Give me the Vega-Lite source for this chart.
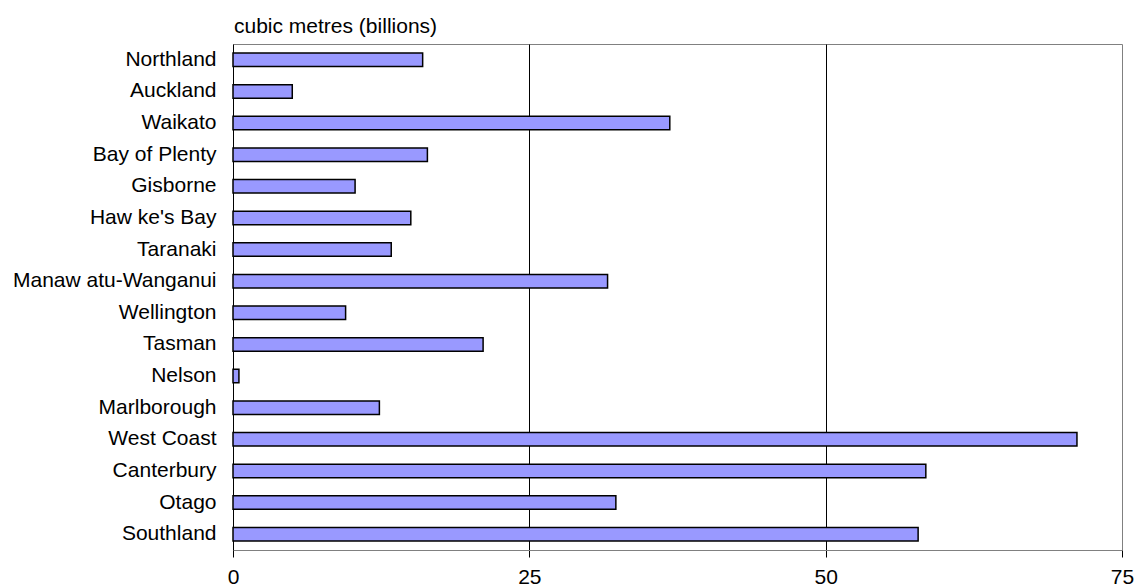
{
  "$schema": "https://vega.github.io/schema/vega-lite/v6.json",
  "autosize": "none",
  "width": 889,
  "height": 506,
  "padding": {"left": 233, "top": 44, "right": 16, "bottom": 38},
  "background": "white",
  "config": {
    "font": "Liberation Sans",
    "view": {"stroke": "#808080", "strokeWidth": 1}
  },
  "title": {
    "text": "cubic metres (billions)",
    "anchor": "start",
    "frame": "group",
    "fontSize": 21,
    "fontWeight": "normal",
    "font": "Liberation Sans",
    "color": "black",
    "offset": 7,
    "dx": 1
  },
  "data": {
    "values": [
      {"region": "Northland", "value": 16.0},
      {"region": "Auckland", "value": 5.0},
      {"region": "Waikato", "value": 36.85},
      {"region": "Bay of Plenty", "value": 16.4},
      {"region": "Gisborne", "value": 10.3},
      {"region": "Haw ke's Bay", "value": 15.0},
      {"region": "Taranaki", "value": 13.35},
      {"region": "Manaw atu-Wanganui", "value": 31.6},
      {"region": "Wellington", "value": 9.5},
      {"region": "Tasman", "value": 21.1},
      {"region": "Nelson", "value": 0.5},
      {"region": "Marlborough", "value": 12.35},
      {"region": "West Coast", "value": 71.2},
      {"region": "Canterbury", "value": 58.45},
      {"region": "Otago", "value": 32.3},
      {"region": "Southland", "value": 57.8}
    ]
  },
  "mark": {"type": "bar", "fill": "#9999FF", "stroke": "black", "strokeWidth": 1.5},
  "encoding": {
    "y": {
      "field": "region",
      "type": "nominal",
      "sort": null,
      "scale": {"paddingInner": 0.57, "paddingOuter": 0.285},
      "axis": {
        "title": null,
        "domainColor": "black",
        "domainWidth": 1,
        "ticks": false,
        "labelPadding": 17,
        "labelFontSize": 21,
        "labelLimit": 400,
        "labelColor": "black",
        "labelFont": "Liberation Sans",
        "grid": false
      }
    },
    "x": {
      "field": "value",
      "type": "quantitative",
      "scale": {"domain": [0, 75], "nice": false, "zero": true},
      "axis": {
        "title": null,
        "values": [0, 25, 50, 75],
        "domainColor": "#808080",
        "domainWidth": 1,
        "tickColor": "black",
        "tickSize": 7,
        "tickWidth": 1,
        "labelBaseline": "alphabetic",
        "labelPadding": 26,
        "labelFontSize": 21,
        "labelFlush": false,
        "labelOverlap": false,
        "labelColor": "black",
        "labelFont": "Liberation Sans",
        "grid": true,
        "gridColor": "black",
        "gridWidth": 1,
        "gridOpacity": {"condition": {"test": "datum.value === 0 || datum.value === 75", "value": 0}, "value": 1}
      }
    }
  }
}
